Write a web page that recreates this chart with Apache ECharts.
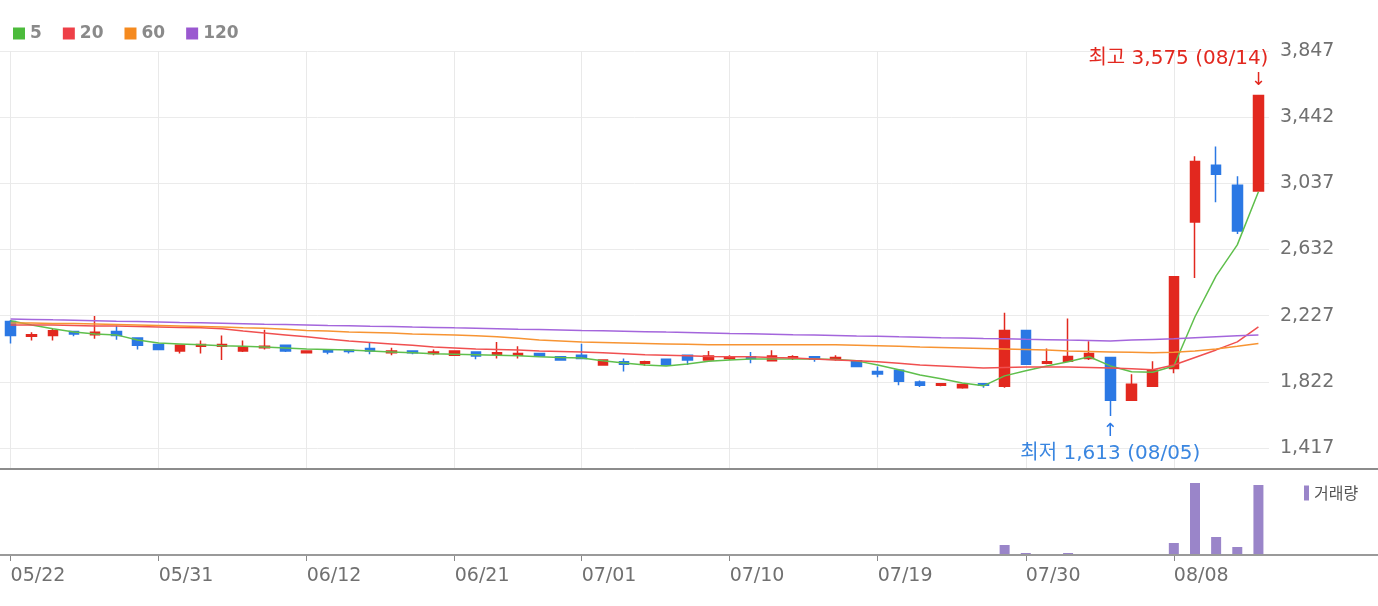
<!DOCTYPE html>
<html><head><meta charset="utf-8">
<script src="https://cdn.jsdelivr.net/npm/echarts@6/dist/echarts.min.js"></script>
<style>html,body{margin:0;padding:0;background:#fff}#c{width:1378px;height:606px}</style>
</head><body><div id="c"></div>
<script>
const dates = ['05/22','05/23','05/24','05/27','05/28','05/29','05/30','05/31',
'06/03','06/04','06/05','06/07','06/10','06/11','06/12','06/13','06/14','06/17','06/18','06/19','06/20','06/21','06/24','06/25','06/26','06/27','06/28',
'07/01','07/02','07/03','07/04','07/05','07/08','07/09','07/10','07/11','07/12','07/15','07/16','07/17','07/18','07/19','07/22','07/23','07/24','07/25','07/26','07/29','07/30','07/31',
'08/01','08/02','08/05','08/06','08/07','08/08','08/09','08/12','08/13','08/14'];
const tickLabels = ['05/22','05/31','06/12','06/21','07/01','07/10','07/19','07/30','08/08'];
const priceTicks = [1417,1822,2227,2632,3037,3442,3847];

const opens  = [2191,2100,2105,2130,2110,2130,2090,2050,2010,2040,2040,2010,2030,2045,2000,2015,2015,2025,2000,2010,1995,1985,2005,1990,1985,1995,1975,1985,1925,1945,1935,1960,1985,1955,1965,1975,1950,1968,1975,1960,1950,1885,1893,1820,1800,1785,1810,1795,2136,1935,1947,1965,1971,1709,1795,1904,2800,3147,3025,2990];
const closes = [2105,2110,2135,2115,2125,2105,2045,2020,2045,2050,2050,2035,2040,2010,2010,2005,2008,2010,2010,2000,2005,2010,1980,2000,1995,1980,1955,1965,1955,1930,1945,1925,1955,1980,1975,1965,1980,1975,1960,1970,1915,1870,1825,1800,1810,1805,1800,2136,1929,1945,1977,1995,1709,1807,1892,2465,3171,3092,2745,3575];
const lows   = [2057,2075,2075,2100,2085,2080,2020,2015,1995,1995,1955,2005,2020,2005,1995,1990,1995,1990,1985,1990,1985,1983,1960,1965,1965,1978,1952,1960,1922,1885,1920,1922,1925,1952,1955,1935,1948,1955,1945,1950,1912,1850,1800,1790,1795,1780,1785,1785,1925,1930,1945,1955,1613,1705,1790,1874,2458,2921,2726,2985];
const highs  = [2200,2125,2150,2135,2225,2165,2095,2055,2050,2075,2105,2075,2140,2050,2015,2018,2016,2060,2030,2012,2020,2012,2008,2065,2040,1998,1978,2055,1960,1965,1950,1962,1988,2010,1985,2005,2015,1985,1978,1985,1952,1915,1895,1830,1815,1810,1812,2245,2140,2025,2210,2070,1975,1868,1947,2470,3202,3262,3080,3575];

const ma5   = [2195,2170,2146,2127,2115,2109,2078,2060,2054,2048,2042,2039,2035,2029,2023,2020,2017,2011,2005,1999,1993,1990,1987,1984,1981,1975,1971,1968,1950,1937,1925,1919,1931,1947,1956,1962,1962,1962,1962,1959,1950,1925,1895,1864,1840,1815,1797,1858,1889,1919,1944,1975,1919,1883,1880,1919,2220,2470,2660,2985];
const ma20  = [2170,2170,2170,2167,2164,2164,2161,2158,2155,2152,2146,2133,2121,2109,2097,2084,2072,2063,2054,2045,2035,2029,2023,2020,2017,2011,2008,2005,1999,1993,1987,1984,1981,1977,1975,1975,1971,1968,1962,1956,1950,1944,1935,1925,1919,1913,1907,1910,1913,1913,1913,1910,1907,1901,1895,1925,1971,2017,2066,2158];
const ma60  = [2182,2182,2179,2179,2176,2173,2170,2167,2164,2161,2158,2152,2149,2143,2136,2133,2127,2124,2121,2115,2112,2109,2103,2097,2088,2078,2072,2066,2063,2060,2057,2054,2051,2048,2048,2048,2048,2048,2048,2048,2045,2042,2039,2035,2032,2029,2026,2023,2020,2017,2011,2008,2005,2002,1999,2002,2011,2023,2039,2057];
const ma120 = [2207,2204,2201,2199,2196,2193,2191,2188,2185,2183,2180,2177,2174,2172,2170,2167,2165,2162,2160,2157,2155,2152,2150,2147,2144,2142,2139,2136,2134,2132,2129,2126,2124,2121,2118,2116,2113,2110,2108,2105,2102,2100,2097,2095,2092,2090,2087,2085,2082,2080,2077,2075,2072,2077,2081,2085,2091,2097,2103,2109];

const volumes = [35,22,28,18,40,25,30,20,26,22,35,20,28,18,15,16,14,22,18,15,16,14,20,24,20,15,18,25,20,24,16,18,22,24,15,20,22,15,16,14,26,22,30,20,15,18,16,1000,200,40,200,50,50,40,40,1200,7200,1800,800,7000];

const RED = '#e2281f', BLUE = '#2b78e4';
const candleData = dates.map((d, i) => [opens[i], closes[i], lows[i], highs[i]]);
let hiIdx = 0, loIdx = 0;
highs.forEach((v, i) => { if (v > highs[hiIdx]) hiIdx = i; });
lows.forEach((v, i) => { if (v < lows[loIdx]) loIdx = i; });
const fmt = v => v.toLocaleString('en-US');
const tickSet = new Set(tickLabels);
const showTick = (idx, val) => tickSet.has(val);
const annFont = "'DejaVu Sans','Noto Sans CJK KR',sans-serif";
const hidden = {symbol: 'circle', symbolSize: 1, itemStyle: {color: 'rgba(0,0,0,0)'}};

const chart = echarts.init(document.getElementById('c'), null, {renderer: 'canvas'});
chart.setOption({
  animation: false,
  backgroundColor: '#fff',
  legend: [{
    data: ['5','20','60','120'], left: 13, top: 25, padding: 0, icon: 'rect', itemWidth: 12, itemHeight: 12,
    itemGap: 21, selectedMode: false,
    textStyle: {color: '#8a8a8a', fontWeight: 'bold', fontSize: 17, fontFamily: 'DejaVu Sans'}
  }, {
    data: ['거래량'], left: 1304, top: 485, padding: 0, icon: 'rect', itemWidth: 5, itemHeight: 15, selectedMode: false,
    textStyle: {color: '#555', fontSize: 16, fontFamily: 'Noto Sans CJK KR'}
  }],
  grid: [
    {left: 0, right: 109, top: 51, height: 418, outerBoundsMode: 'none'},
    {left: 0, right: 109, top: 469, height: 86, outerBoundsMode: 'none'}
  ],
  xAxis: [
    {type: 'category', gridIndex: 0, data: dates, boundaryGap: true,
     axisLine: {show: false}, axisTick: {show: false}, axisLabel: {show: false}, splitLine: {show: false}},
    {type: 'category', gridIndex: 1, data: dates, boundaryGap: true,
     axisLine: {show: false},
     axisTick: {show: true, alignWithLabel: true, interval: showTick, length: 6, lineStyle: {color: '#888', width: 1}},
     axisLabel: {show: true, interval: showTick, align: 'left', margin: 12, color: '#707070', fontSize: 19, fontFamily: 'DejaVu Sans'},
     splitLine: {show: false}}
  ],
  yAxis: [
    {type: 'value', gridIndex: 0, position: 'right', min: 1288, max: 3847, scale: true,
     axisLine: {show: false},
     axisTick: {show: false, customValues: priceTicks},
     axisLabel: {customValues: priceTicks, formatter: v => fmt(v), margin: 11, color: '#707070', fontSize: 19, fontFamily: 'DejaVu Sans'},
     splitLine: {show: true, lineStyle: {color: '#ebebeb', width: 1}}},
    {type: 'value', gridIndex: 1, min: 0, max: 8600, show: false, splitLine: {show: false}}
  ],
  graphic: [
    {type: 'line', shape: {x1: 0, y1: 469, x2: 1378, y2: 469}, style: {stroke: '#8c8c8c', lineWidth: 2}, z: 100, silent: true},
    {type: 'line', shape: {x1: 0, y1: 555, x2: 1378, y2: 555}, style: {stroke: '#9a9a9a', lineWidth: 2}, z: 100, silent: true}
  ],
  series: [
    {type: 'candlestick', name: 'price', xAxisIndex: 0, yAxisIndex: 0, data: candleData, barWidth: 10,
     itemStyle: {color: RED, color0: BLUE, borderColor: RED, borderColor0: BLUE, borderWidth: 1.5},
     markLine: {silent: true, symbol: ['none','none'], label: {show: false}, z: 0,
       lineStyle: {color: '#e9e9e9', width: 1, type: 'solid'},
       data: tickLabels.map(d => ({xAxis: d}))},
     markPoint: {silent: true, data: [
       Object.assign({coord: [hiIdx, highs[hiIdx]], label: {show: true, formatter: '↓', offset: [0, -15], color: RED, fontSize: 18, fontFamily: annFont}}, hidden),
       Object.assign({coord: [hiIdx, highs[hiIdx]], label: {show: true, formatter: '최고 ' + fmt(highs[hiIdx]) + ' (' + dates[hiIdx] + ')', align: 'right', offset: [10, -37], color: RED, fontSize: 20, fontFamily: annFont}}, hidden),
       Object.assign({coord: [loIdx, lows[loIdx]], label: {show: true, formatter: '↑', offset: [0, 15], color: BLUE, fontSize: 18, fontFamily: annFont}}, hidden),
       Object.assign({coord: [loIdx, lows[loIdx]], label: {show: true, formatter: '최저 ' + fmt(lows[loIdx]) + ' (' + dates[loIdx] + ')', align: 'center', offset: [0, 38], color: '#3a86e0', fontSize: 20, fontFamily: annFont}}, hidden)
     ]}},
    {type: 'line', name: '5', data: ma5, showSymbol: false, lineStyle: {width: 1.5, color: '#5fbf4c'}, itemStyle: {color: '#4cbb3c'}},
    {type: 'line', name: '20', data: ma20, showSymbol: false, lineStyle: {width: 1.5, color: '#f05050'}, itemStyle: {color: '#ee4048'}},
    {type: 'line', name: '60', data: ma60, showSymbol: false, lineStyle: {width: 1.5, color: '#f79433'}, itemStyle: {color: '#f58a1f'}},
    {type: 'line', name: '120', data: ma120, showSymbol: false, lineStyle: {width: 1.5, color: '#a466dc'}, itemStyle: {color: '#9a58d0'}},
    {type: 'bar', name: '거래량', xAxisIndex: 1, yAxisIndex: 1, data: volumes, barWidth: 10, itemStyle: {color: '#9a85c9'}}
  ]
});
</script>
</body></html>
